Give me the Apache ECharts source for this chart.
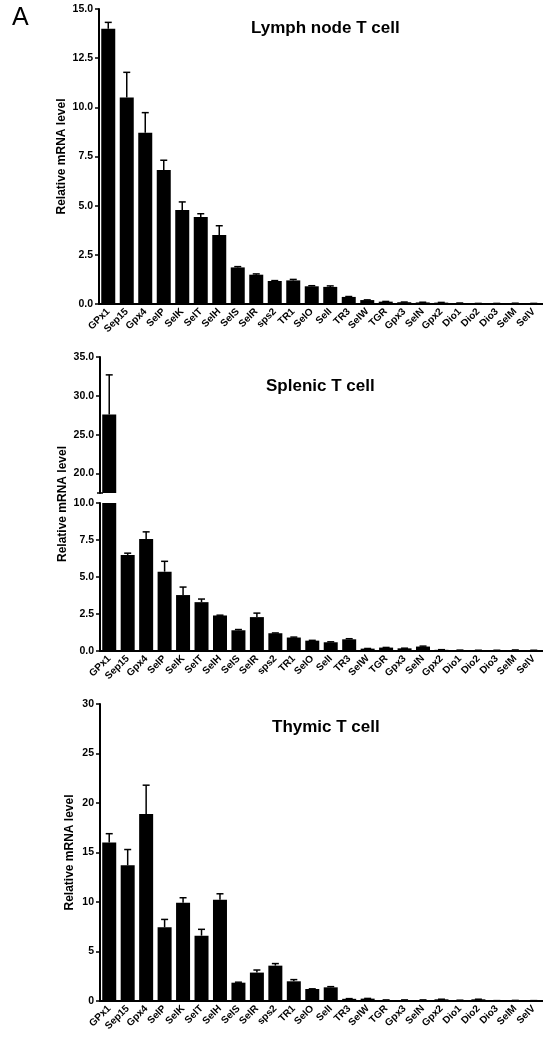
<!DOCTYPE html>
<html>
<head>
<meta charset="utf-8">
<script src="https://cdn.jsdelivr.net/npm/echarts@6/dist/echarts.min.js"></script>
<style>
  html, body { margin: 0; padding: 0; background: #fff; }
  #chart { width: 543px; height: 1043px; }
</style>
</head>
<body>
<div id="chart"></div>
<script>
// gene names on the x axis (same for all three panels)
const genes = ['GPx1', 'Sep15', 'Gpx4', 'SelP', 'SelK', 'SelT', 'SelH', 'SelS', 'SelR', 'sps2', 'TR1', 'SelO',
  'SelI', 'TR3', 'SelW', 'TGR', 'Gpx3', 'SelN', 'Gpx2', 'Dio1', 'Dio2', 'Dio3', 'SelM', 'SelV']

// Lymph node T cell
const lymphMean = [14.0, 10.5, 8.71, 6.81, 4.78, 4.42, 3.51, 1.86, 1.49, 1.17, 1.2, 0.9,
  0.87, 0.36, 0.2, 0.12, 0.09, 0.08, 0.07, 0.04, 0.02, 0.02, 0.03, 0.02]
const lymphErr = [0.32, 1.28, 1.02, 0.5, 0.41, 0.17, 0.47, 0.04, 0.04, 0.02, 0.05, 0.03,
  0.05, 0.02, 0.01, 0.01, 0.01, 0.01, 0.01, 0.01, 0.01, 0.01, 0.01, 0.01]

// Splenic T cell
const splenMean = [27.6, 6.49, 7.56, 5.36, 3.78, 3.3, 2.4, 1.4, 2.29, 1.2, 0.91, 0.7,
  0.59, 0.79, 0.16, 0.23, 0.18, 0.3, 0.08, 0.05, 0.04, 0.04, 0.06, 0.04]
const splenErr = [5.1, 0.12, 0.49, 0.7, 0.54, 0.21, 0.02, 0.05, 0.27, 0.02, 0.03, 0.02,
  0.03, 0.04, 0.01, 0.01, 0.01, 0.03, 0.01, 0.01, 0.01, 0.01, 0.01, 0.01]

// Thymic T cell
const thymMean = [16.0, 13.7, 18.9, 7.44, 9.93, 6.6, 10.23, 1.85, 2.87, 3.57, 1.99, 1.21,
  1.38, 0.22, 0.24, 0.1, 0.1, 0.1, 0.17, 0.07, 0.17, 0.03, 0.05, 0.03]
const thymErr = [0.9, 1.6, 2.9, 0.8, 0.5, 0.64, 0.6, 0.05, 0.26, 0.21, 0.17, 0.02,
  0.07, 0.02, 0.02, 0.01, 0.01, 0.01, 0.01, 0.01, 0.01, 0.01, 0.01, 0.01]

// broken axis of the splenic panel
const splenLowMax = 10
const splenHighMin = 17.5
const splenHighMax = 35
const splenHighTicks = [20, 25, 30, 35]

const FONT = '"Liberation Sans", Arial, sans-serif'

function errItem(params, api) {
  const x = api.value(0)
  const v = api.value(1)
  const e = api.value(2)
  const p0 = api.coord([x, v])
  const p1 = api.coord([x, v + e])
  const st = { stroke: '#000', lineWidth: 1.5 }
  return {
    type: 'group',
    children: [
      { type: 'line', shape: { x1: p0[0], y1: p0[1], x2: p1[0], y2: p1[1] }, style: st },
      { type: 'line', shape: { x1: p1[0] - 3.5, y1: p1[1], x2: p1[0] + 3.5, y2: p1[1] }, style: st }
    ]
  }
}

function xAx(gridIndex, show) {
  return {
    type: 'category', gridIndex: gridIndex, data: genes, show: show,
    axisLine: { lineStyle: { color: '#000', width: 2 } },
    axisTick: { alignWithLabel: true, length: 4, lineStyle: { color: '#000', width: 1.5 } },
    axisLabel: { rotate: 45, interval: 0, margin: 6, color: '#000', fontFamily: FONT, fontWeight: 'bold', fontSize: 10 }
  }
}

function yAx(gridIndex, extra) {
  return Object.assign({
    type: 'value', gridIndex: gridIndex, position: 'left',
    splitLine: { show: false },
    nameMoveOverlap: false,
    axisLine: { show: true, lineStyle: { color: '#000', width: 2 } },
    axisTick: { show: true, length: 4, lineStyle: { color: '#000', width: 1.5 } },
    axisLabel: { margin: 6, color: '#000', fontFamily: FONT, fontWeight: 'bold', fontSize: 10.5 },
    nameTextStyle: { color: '#000', fontFamily: FONT, fontWeight: 'bold', fontSize: 12 }
  }, extra)
}

function bars(xi, yi, data) {
  return { type: 'bar', xAxisIndex: xi, yAxisIndex: yi, data: data, barWidth: 14, itemStyle: { color: '#000' }, clip: true }
}

function errs(xi, yi, means, err, keep) {
  const d = []
  means.forEach(function (v, i) { if (keep(v, err[i])) d.push([i, v, err[i]]) })
  return { type: 'custom', xAxisIndex: xi, yAxisIndex: yi, data: d, renderItem: errItem, z: 1 }
}

const fmt1 = function (v) { return v.toFixed(1) }

const option = {
  animation: false,
  title: [
    { text: 'A', left: 12, top: 6, padding: 0, textStyle: { fontFamily: FONT, fontWeight: 'normal', fontSize: 25, color: '#000' } },
    { text: 'Lymph node T cell', left: 251, top: 20, padding: 0, textStyle: { fontFamily: FONT, fontWeight: 'bold', fontSize: 17, color: '#000' } },
    { text: 'Splenic T cell', left: 266, top: 378, padding: 0, textStyle: { fontFamily: FONT, fontWeight: 'bold', fontSize: 17, color: '#000' } },
    { text: 'Thymic T cell', left: 272, top: 719, padding: 0, textStyle: { fontFamily: FONT, fontWeight: 'bold', fontSize: 17, color: '#000' } }
  ],
  grid: [
    { left: 99, width: 444, top: 9, height: 295 },
    { left: 100, width: 443, top: 357, height: 136 },
    { left: 100, width: 443, top: 503, height: 148 },
    { left: 100, width: 443, top: 704, height: 297 }
  ],
  xAxis: [xAx(0, true), xAx(1, false), xAx(2, true), xAx(3, true)],
  yAxis: [
    yAx(0, { min: 0, max: 15, interval: 2.5, axisLabel: { formatter: fmt1, margin: 6, color: '#000', fontFamily: FONT, fontWeight: 'bold', fontSize: 10.5 },
      name: 'Relative mRNA level', nameLocation: 'middle', nameGap: 31 }),
    yAx(1, { min: splenHighMin, max: splenHighMax,
      axisTick: { show: true, length: 4, customValues: splenHighTicks, lineStyle: { color: '#000', width: 1.5 } },
      axisLabel: { customValues: splenHighTicks, formatter: fmt1, margin: 6, color: '#000', fontFamily: FONT, fontWeight: 'bold', fontSize: 10.5 } }),
    yAx(2, { min: 0, max: splenLowMax, interval: 2.5, axisLabel: { formatter: fmt1, margin: 6, color: '#000', fontFamily: FONT, fontWeight: 'bold', fontSize: 10.5 } }),
    yAx(3, { min: 0, max: 30, interval: 5, name: 'Relative mRNA level', nameLocation: 'middle', nameGap: 24 }),
    // break mark at the foot of the upper splenic segment
    yAx(1, { min: splenHighMin, max: splenHighMax, axisLine: { show: false }, axisLabel: { show: false },
      axisTick: { show: true, inside: true, length: 3, customValues: [splenHighMin], lineStyle: { color: '#000', width: 1.5 } } }),
    yAx(1, { min: splenHighMin, max: splenHighMax, axisLine: { show: false }, axisLabel: { show: false },
      axisTick: { show: true, length: 3, customValues: [splenHighMin], lineStyle: { color: '#000', width: 1.5 } } })
  ],
  graphic: [
    { type: 'text', x: 63, y: 504, rotation: Math.PI / 2,
      style: { text: 'Relative mRNA level', textAlign: 'center', textVerticalAlign: 'middle', fill: '#000',
        font: 'bold 12px ' + FONT } }
  ],
  series: [
    bars(0, 0, lymphMean),
    errs(0, 0, lymphMean, lymphErr, function () { return true }),
    bars(1, 1, splenMean.map(function (v) { return v > splenHighMin ? v : '-' })),
    errs(1, 1, splenMean, splenErr, function (v) { return v > splenHighMin }),
    bars(2, 2, splenMean),
    errs(2, 2, splenMean, splenErr, function (v, e) { return v + e <= splenLowMax }),
    bars(3, 3, thymMean),
    errs(3, 3, thymMean, thymErr, function () { return true })
  ]
}

const myChart = echarts.init(document.getElementById('chart'))
myChart.setOption(option)
window.addEventListener('resize', () => {
  myChart.resize()
})
</script>
</body>
</html>
